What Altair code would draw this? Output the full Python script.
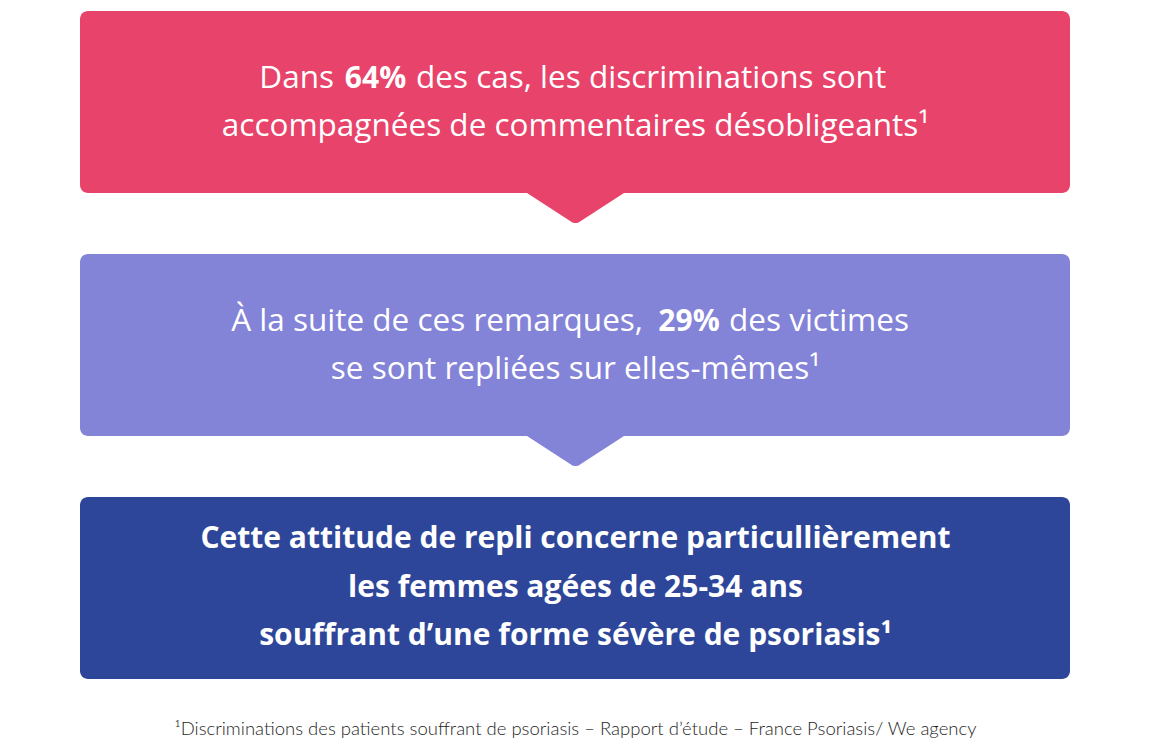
import altair as alt
import pandas as pd

# ---- content ----
box_colors = ["#E8436A", "#8383D8", "#2E4699"]

# box 1 lines
b1_line1 = ["Dans", "64%", "des cas, les discriminations sont"]
b1_line2 = "accompagnées de commentaires désobligeants¹"
# box 2 lines
b2_line1 = ["À la suite de ces remarques,", "29%", "des victimes"]
b2_line2 = "se sont repliées sur elles-mêmes¹"
# box 3 lines (all bold)
b3_lines = [
    "Cette attitude de repli concerne particullièrement",
    "les femmes agées de 25-34 ans",
    "souffrant d\u2019une forme sévère de psoriasis¹",
]
footnote = "¹Discriminations des patients souffrant de psoriasis \u2013 Rapport d\u2019étude \u2013 France Psoriasis/ We agency"

# ---- layout (page pixel coordinates) ----
W, H = 1151, 753
M = 8
X0, X1 = 80, 1070
XC = 575.5
BOX_TOP = [11, 254, 497]
BOX_H = 182
FONT = "Open Sans"
FS_REG = 31.5
FS_BOLD = 30

boxes = pd.DataFrame({
    "x": [X0] * 3, "x2": [X1] * 3,
    "y": BOX_TOP, "y2": [t + BOX_H for t in BOX_TOP],
    "c": box_colors,
})
pointers = pd.DataFrame({"x": [XC, XC], "y": [BOX_TOP[0] + BOX_H, BOX_TOP[1] + BOX_H],
                         "c": box_colors[:2]})

rows = []
def seg(text, x, y, align, weight):
    rows.append({"t": text, "x": x, "y": y, "a": align, "w": weight})

# box 1
seg(b1_line1[0], 334, 87.5, "right", 400)
seg(b1_line1[1], 375.5, 87.5, "center", 700)
seg(b1_line1[2], 416, 87.5, "left", 400)
seg(b1_line2, XC, 135.5, "center", 400)
# box 2
seg(b2_line1[0], 643, 330.5, "right", 400)
seg(b2_line1[1], 689, 330.5, "center", 700)
seg(b2_line1[2], 729, 330.5, "left", 400)
seg(b2_line2, XC, 378.5, "center", 400)
# box 3
for i, ln in enumerate(b3_lines):
    seg(ln, XC, 548 + 48.5 * i, "center", 700)
texts = pd.DataFrame(rows)

xs = alt.Scale(domain=[M, W - M], range=[0, W - 2 * M])
ys = alt.Scale(domain=[H - M, M], range=[H - 2 * M, 0])

rect = alt.Chart(boxes).mark_rect(cornerRadius=8).encode(
    x=alt.X("x:Q", scale=xs, axis=None), x2="x2:Q",
    y=alt.Y("y:Q", scale=ys, axis=None), y2="y2:Q",
    color=alt.Color("c:N", scale=None),
)

ptr = alt.Chart(pointers).mark_point(
    shape="M-1,-0.15 L1,-0.15 L1,0 L0.11,0.575 Q0,0.665 -0.11,0.575 L-1,0 Z",
    size=9409, filled=True, opacity=1, strokeWidth=0,
).encode(
    x=alt.X("x:Q", scale=xs, axis=None),
    y=alt.Y("y:Q", scale=ys, axis=None),
    color=alt.Color("c:N", scale=None),
)

def text_layer(align, weight):
    d = texts[(texts.a == align) & (texts.w == weight)]
    return alt.Chart(d).mark_text(
        align=align, baseline="alphabetic", font=FONT,
        fontSize=FS_BOLD if weight == 700 else FS_REG,
        fontWeight=weight, color="white",
    ).encode(
        x=alt.X("x:Q", scale=xs, axis=None),
        y=alt.Y("y:Q", scale=ys, axis=None),
        text="t:N",
    )

layers = [rect, ptr]
for a in ["left", "center", "right"]:
    for w in [400, 700]:
        if ((texts.a == a) & (texts.w == w)).any():
            layers.append(text_layer(a, w))

foot = alt.Chart(pd.DataFrame({"t": [footnote], "x": [XC], "y": [735]})).mark_text(
    align="center", baseline="alphabetic", font="Lato", fontSize=18.5,
    fontWeight=300, color="#1e1e1e",
).encode(
    x=alt.X("x:Q", scale=xs, axis=None),
    y=alt.Y("y:Q", scale=ys, axis=None),
    text="t:N",
)
layers.append(foot)

chart = alt.layer(*layers).properties(
    width=W - 2 * M, height=H - 2 * M, padding=0,
    autosize=alt.AutoSizeParams(type="none"),
).configure_view(strokeWidth=0)

chart.save("out.html", embed_options={"renderer": "svg", "actions": False})
